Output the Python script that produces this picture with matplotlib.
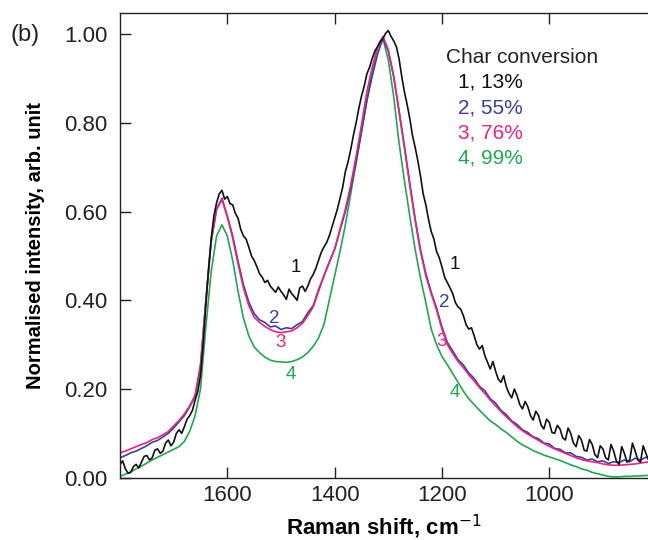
import matplotlib
matplotlib.use("Agg")
import matplotlib.pyplot as plt

plt.rcParams['font.family'] = ['Liberation Sans', 'DejaVu Sans']

# sampling grids (cm^-1)
wavenumber = list(range(1800, 805, -10))
wavenumber_fine = list(range(1800, 805, -5))

# curve 1 (13 % conversion) sampled every 5 cm^-1 (noisy spectrum)
conv_13 = [0.030, 0.038, 0.020, 0.010, 0.012, 0.025, 0.030, 0.022, 0.035, 0.048,
           0.050, 0.040, 0.045, 0.062, 0.065, 0.055, 0.060, 0.078, 0.085, 0.072,
           0.080, 0.100, 0.108, 0.100, 0.115, 0.132, 0.140, 0.152, 0.175, 0.195,
           0.230, 0.300, 0.390, 0.470, 0.540, 0.590, 0.620, 0.640, 0.648, 0.628,
           0.634, 0.618, 0.615, 0.596, 0.585, 0.560, 0.545, 0.538, 0.520, 0.500,
           0.490, 0.476, 0.460, 0.452, 0.440, 0.445, 0.432, 0.425, 0.418, 0.430,
           0.420, 0.412, 0.402, 0.425, 0.415, 0.408, 0.400, 0.428, 0.432, 0.420,
           0.432, 0.448, 0.458, 0.472, 0.490, 0.508, 0.520, 0.530, 0.545, 0.565,
           0.585, 0.605, 0.630, 0.655, 0.690, 0.712, 0.740, 0.772, 0.800, 0.832,
           0.860, 0.882, 0.910, 0.925, 0.945, 0.962, 0.972, 0.984, 0.990, 1.002,
           1.008, 0.995, 0.985, 0.972, 0.945, 0.905, 0.870, 0.842, 0.810, 0.772,
           0.745, 0.715, 0.680, 0.640, 0.615, 0.582, 0.555, 0.538, 0.510, 0.496,
           0.475, 0.452, 0.440, 0.428, 0.415, 0.395, 0.385, 0.380, 0.365, 0.345,
           0.335, 0.338, 0.320, 0.300, 0.290, 0.298, 0.275, 0.260, 0.245, 0.262,
           0.240, 0.222, 0.215, 0.230, 0.205, 0.190, 0.180, 0.200, 0.185, 0.165,
           0.155, 0.172, 0.160, 0.140, 0.130, 0.150, 0.140, 0.118, 0.110, 0.132,
           0.125, 0.102, 0.100, 0.118, 0.110, 0.090, 0.085, 0.112, 0.100, 0.078,
           0.070, 0.095, 0.085, 0.062, 0.060, 0.086, 0.075, 0.052, 0.045, 0.072,
           0.065, 0.045, 0.040, 0.075, 0.060, 0.038, 0.030, 0.070, 0.055, 0.035,
           0.040, 0.078, 0.060, 0.040, 0.035, 0.072, 0.055, 0.040, 0.045]

# curves 2-4 sampled every 10 cm^-1
conv_55 = [0.045, 0.050, 0.056, 0.060, 0.066, 0.072, 0.080, 0.084, 0.092, 0.100,
           0.112, 0.126, 0.140, 0.160, 0.184, 0.250, 0.398, 0.532, 0.606, 0.630,
           0.590, 0.545, 0.488, 0.435, 0.396, 0.370, 0.356, 0.350, 0.340, 0.342,
           0.334, 0.338, 0.336, 0.345, 0.352, 0.372, 0.388, 0.424, 0.455, 0.486,
           0.515, 0.558, 0.600, 0.652, 0.712, 0.780, 0.850, 0.905, 0.955, 0.990,
           0.962, 0.905, 0.828, 0.748, 0.664, 0.584, 0.514, 0.460, 0.418, 0.382,
           0.340, 0.305, 0.286, 0.266, 0.254, 0.236, 0.224, 0.206, 0.196, 0.178,
           0.168, 0.152, 0.142, 0.128, 0.120, 0.108, 0.102, 0.092, 0.088, 0.078,
           0.076, 0.066, 0.064, 0.056, 0.056, 0.048, 0.046, 0.040, 0.042, 0.036,
           0.038, 0.032, 0.036, 0.034, 0.040, 0.036, 0.044, 0.040, 0.046, 0.042]

conv_76 = [0.056, 0.060, 0.065, 0.070, 0.075, 0.079, 0.086, 0.090, 0.097, 0.104,
           0.117, 0.129, 0.144, 0.162, 0.186, 0.255, 0.400, 0.535, 0.605, 0.627,
           0.588, 0.540, 0.482, 0.428, 0.388, 0.362, 0.350, 0.341, 0.334, 0.329,
           0.327, 0.329, 0.331, 0.338, 0.348, 0.365, 0.385, 0.420, 0.455, 0.485,
           0.515, 0.560, 0.605, 0.660, 0.725, 0.795, 0.870, 0.925, 0.970, 0.995,
           0.965, 0.905, 0.825, 0.745, 0.660, 0.580, 0.510, 0.455, 0.415, 0.378,
           0.335, 0.300, 0.280, 0.262, 0.248, 0.232, 0.218, 0.203, 0.190, 0.175,
           0.162, 0.149, 0.137, 0.126, 0.115, 0.106, 0.098, 0.091, 0.084, 0.077,
           0.071, 0.065, 0.060, 0.055, 0.050, 0.045, 0.041, 0.038, 0.036, 0.034,
           0.031, 0.029, 0.028, 0.028, 0.029, 0.030, 0.031, 0.033, 0.035, 0.036]

conv_99 = [0.003, 0.008, 0.013, 0.020, 0.026, 0.033, 0.040, 0.046, 0.052, 0.058,
           0.064, 0.070, 0.082, 0.105, 0.140, 0.200, 0.340, 0.465, 0.545, 0.570,
           0.545, 0.490, 0.420, 0.360, 0.320, 0.295, 0.282, 0.272, 0.265, 0.262,
           0.261, 0.260, 0.262, 0.266, 0.272, 0.282, 0.296, 0.315, 0.345, 0.400,
           0.455, 0.510, 0.570, 0.640, 0.710, 0.780, 0.850, 0.920, 0.970, 0.990,
           0.942, 0.860, 0.755, 0.670, 0.590, 0.515, 0.450, 0.395, 0.335, 0.300,
           0.273, 0.255, 0.235, 0.215, 0.195, 0.178, 0.165, 0.152, 0.140, 0.128,
           0.120, 0.110, 0.102, 0.092, 0.082, 0.074, 0.068, 0.061, 0.056, 0.051,
           0.047, 0.043, 0.039, 0.034, 0.029, 0.025, 0.020, 0.017, 0.012, 0.009,
           0.006, 0.003, 0.002, 0.002, 0.003, 0.003, 0.004, 0.004, 0.005, 0.005]

series_names = ['1', '2', '3', '4']
legend_title = 'Char conversion'
legend_lines = ['1, 13%', '2, 55%', '3, 76%', '4, 99%']
colors = ['#111111', '#3a3ea0', '#e8247e', '#1fa84f']

x_ticks = [1600, 1400, 1200, 1000]
y_ticks = [0.0, 0.2, 0.4, 0.6, 0.8, 1.0]
y_ticklabels = ['0.00', '0.20', '0.40', '0.60', '0.80', '1.00']

# curve annotations (data units): left and right label of each curve
left_labels = [(1473, 0.473), (1512, 0.360), (1501, 0.304), (1482, 0.232)]
right_labels = [(1176, 0.480), (1195, 0.396), (1200, 0.308), (1176, 0.191)]

fig = plt.figure(figsize=(6.48, 5.4), dpi=100)
ax = fig.add_axes([120/648, 62.3/540, 1 - 120/648, 464.4/540])

xs = [wavenumber_fine, wavenumber, wavenumber, wavenumber]
all_series = [conv_13, conv_55, conv_76, conv_99]
for idx in [3, 1, 2, 0]:
    ax.plot(xs[idx], all_series[idx], color=colors[idx], lw=1.2)

ax.set_xlim(1800, 816)
ax.set_ylim(0, 1.047)
ax.set_xticks(x_ticks)
ax.set_yticks(y_ticks)
ax.set_yticklabels(y_ticklabels)
ax.tick_params(direction='in', length=8, width=1, labelsize=16, colors='#222222')
ax.tick_params(axis='x', top=True, pad=5)
ax.tick_params(axis='y', pad=9)
ax.spines['right'].set_visible(False)
for s in ['left', 'top', 'bottom']:
    ax.spines[s].set_linewidth(1.0)
    ax.spines[s].set_color('#222222')

ax.set_xlabel('Raman shift, cm$^{-1}$', fontsize=16, fontweight='bold', labelpad=5)
ax.set_ylabel('Normalised intensity, arb. unit', fontsize=14.5, fontweight='bold', labelpad=14)

for i in range(4):
    ax.text(*left_labels[i], series_names[i], color=colors[i], fontsize=13.5, ha='center', va='center')
    ax.text(*right_labels[i], series_names[i], color=colors[i], fontsize=13.5, ha='center', va='center')

ax.text(1193, 0.947, legend_title, color='#222222', fontsize=15, ha='left', va='center')
leg_y = [0.892, 0.834, 0.777, 0.721]
for i in range(4):
    ax.text(1171, leg_y[i], legend_lines[i], color=colors[i], fontsize=15, ha='left', va='center')

fig.text(10/648, 1 - 35/540, '(b)', fontsize=17, ha='left', va='center', color='#222222')

fig.savefig('out.png', dpi=100)
